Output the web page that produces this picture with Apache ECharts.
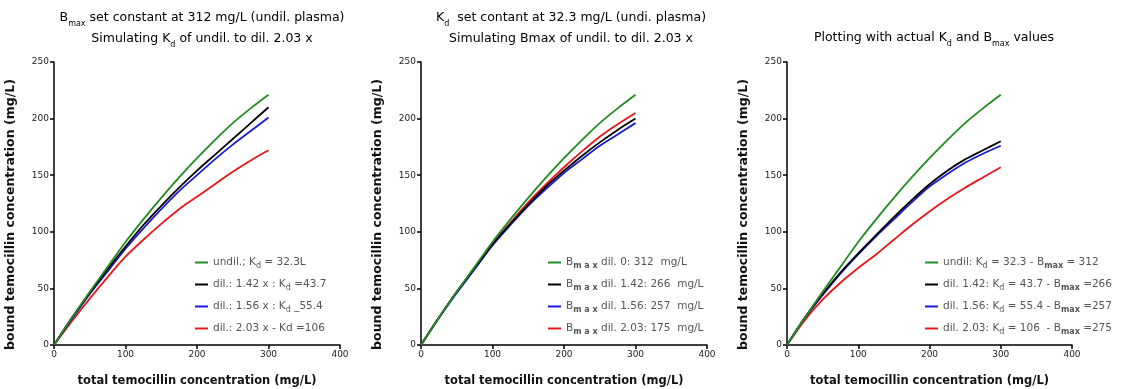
<!DOCTYPE html>
<html><head><meta charset="utf-8">
<script src="https://cdn.jsdelivr.net/npm/echarts@6/dist/echarts.min.js"></script>
<style>html,body{margin:0;padding:0;background:#fff}#c{width:1129px;height:389px}</style>
</head><body><div id="c"></div>
<script>
// ---- data ----
const xs = [0,25,50,75,100,125,150,175,200,225,250,275,300];
// Panel 1: Bmax constant, Kd varied
const p1Undil = [0,24,47,69,91,111,130,148,165,181,196,209,221];
const p1Dil142 = [0,24,46,67,87,106,123,139,154,168,182,196,210];
const p1Dil156 = [0,23,45,65,85,103,120,136,150,164,177,189,201];
const p1Dil203 = [0,21,41,60,78,93,107,120,131,142,153,163,172];
// Panel 2: Kd constant, Bmax varied
const p2Undil = [0,24,47,69,91,111,130,148,165,181,196,209,221];
const p2Dil142 = [0,24,47,68,89,107,124,140,154,167,179,190,200];
const p2Dil156 = [0,24,46,67,88,106,123,138,152,164,176,186,196];
const p2Dil203 = [0,24,47,68,89,108,126,142,157,171,184,195,205];
// Panel 3: actual Kd and Bmax
const p3Undil = [0,24,47,69,91,111,130,148,165,181,196,209,221];
const p3Dil142 = [0,24,45,64,81,97,113,128,142,154,164,172,180];
const p3Dil156 = [0,24,44,63,80,96,111,126,140,151,161,169,176];
const p3Dil203 = [0,22,40,55,68,80,93,106,118,129,139,148,157];

const xTicks = [0,100,200,300,400];
const yTicks = [0,50,100,150,200,250];

const p1Names = ['undil.; K{d|d} = 32.3L','dil.: 1.42 x : K{d|d} =43.7','dil.: 1.56 x : K{d|d} _55.4','dil.: 2.03 x - Kd =106'];
const p2Names = ['B{m|m a x} dil. 0: 312  mg/L','B{m|m a x} dil. 1.42: 266  mg/L','B{m|m a x} dil. 1.56: 257  mg/L','B{m|m a x} dil. 2.03: 175  mg/L'];
const p3Names = ['undil: K{d|d} = 32.3 - B{m|max} = 312','dil. 1.42: K{d|d} = 43.7 - B{m|max} =266','dil. 1.56: K{d|d} = 55.4 - B{m|max} =257','dil. 2.03: K{d|d} = 106  - B{m|max} =275'];

const colors = ['#228b22','#000000','#1a1ad6','#e8161b'];

// ---- chart ----
const FONT = 'DejaVu Sans';
const grids = [
  {left:54, top:62, width:286, height:283, outerBoundsMode:'none', containLabel:false},
  {left:421, top:62, width:286, height:283, outerBoundsMode:'none', containLabel:false},
  {left:787, top:62, width:285, height:283, outerBoundsMode:'none', containLabel:false}
];
function pairs(ys){ return xs.map((x,i)=>[x, ys[i]]); }

const xAxes = grids.map((g,i)=>({
  type:'value', gridIndex:i, min:0, max:400, interval:100,
  name:'total temocillin concentration (mg/L)', nameLocation:'middle', nameGap:30,
  nameTextStyle:{fontFamily:FONT, fontSize:11.5, fontWeight:'bold', color:'#111'},
  axisLine:{show:true, lineStyle:{color:'#000', width:1.5}},
  axisTick:{show:true, length:4, lineStyle:{color:'#000', width:1.5}},
  axisLabel:{fontFamily:FONT, fontSize:9, color:'#222', margin:5},
  splitLine:{show:false}
}));
const yAxes = grids.map((g,i)=>({
  type:'value', gridIndex:i, min:0, max:250, interval:50,
  name:'bound temocillin concentration (mg/L)', nameLocation:'middle', nameGap:37,
  nameTextStyle:{fontFamily:FONT, fontSize:12.5, fontWeight:'bold', color:'#111', padding:[0,22,0,0]},
  axisLine:{show:true, lineStyle:{color:'#000', width:1.5}},
  axisTick:{show:true, length:4, lineStyle:{color:'#000', width:1.5}},
  axisLabel:{fontFamily:FONT, fontSize:9, color:'#222', margin:5},
  splitLine:{show:false}
}));

const panels = [
  {names:p1Names, data:[p1Undil,p1Dil142,p1Dil156,p1Dil203]},
  {names:p2Names, data:[p2Undil,p2Dil142,p2Dil156,p2Dil203]},
  {names:p3Names, data:[p3Undil,p3Dil142,p3Dil156,p3Dil203]}
];
const series = [];
panels.forEach((p,pi)=>{
  p.data.forEach((ys,si)=>{
    series.push({
      type:'line', name:p.names[si], xAxisIndex:pi, yAxisIndex:pi,
      data:pairs(ys), showSymbol:false, smooth:0.3,
      lineStyle:{color:colors[si], width:1.8}, itemStyle:{color:colors[si]},
      z: 10-si
    });
  });
});

const richLegend = {
  d:{fontFamily:FONT, fontSize:8, color:'#555', verticalAlign:'bottom', padding:[6,0,0,0]},
  m:{fontFamily:FONT, fontSize:8, fontWeight:'bold', color:'#555', verticalAlign:'bottom', padding:[6,0,0,0]}
};
const legendPos = [{left:190, top:252},{left:543, top:252},{left:920, top:252}];
const legends = panels.map((p,pi)=>({
  data:p.names, orient:'vertical', left:legendPos[pi].left, top:legendPos[pi].top,
  itemGap:9.5, itemWidth:13, itemHeight:2, icon:'rect',
  textStyle:{fontFamily:FONT, fontSize:10.5, color:'#555', rich:richLegend},
  selectedMode:false
}));

const titleRich = {
  s:{fontFamily:FONT, fontSize:8, color:'#000', verticalAlign:'bottom', padding:[6,0,0,0]}
};
const titleStyle = {fontFamily:FONT, fontSize:12.5, fontWeight:'normal', color:'#000', lineHeight:21, rich:titleRich};
const titles = [
  {text:'B{s|max} set constant at 312 mg/L (undil. plasma)\nSimulating K{s|d} of undil. to dil. 2.03 x', left:197, top:2, textAlign:'center', textStyle:titleStyle},
  {text:'K{s|d}  set contant at 32.3 mg/L (undi. plasma)\nSimulating Bmax of undil. to dil. 2.03 x', left:566, top:2, textAlign:'center', textStyle:titleStyle},
  {text:'Plotting with actual K{s|d} and B{s|max} values', left:929, top:22, textAlign:'center', textStyle:titleStyle}
];

const chart = echarts.init(document.getElementById('c'), null, {renderer:'canvas'});
chart.setOption({
  animation:false,
  backgroundColor:'#fff',
  title:titles,
  grid:grids,
  xAxis:xAxes,
  yAxis:yAxes,
  legend:legends,
  series:series
});
</script></body></html>
